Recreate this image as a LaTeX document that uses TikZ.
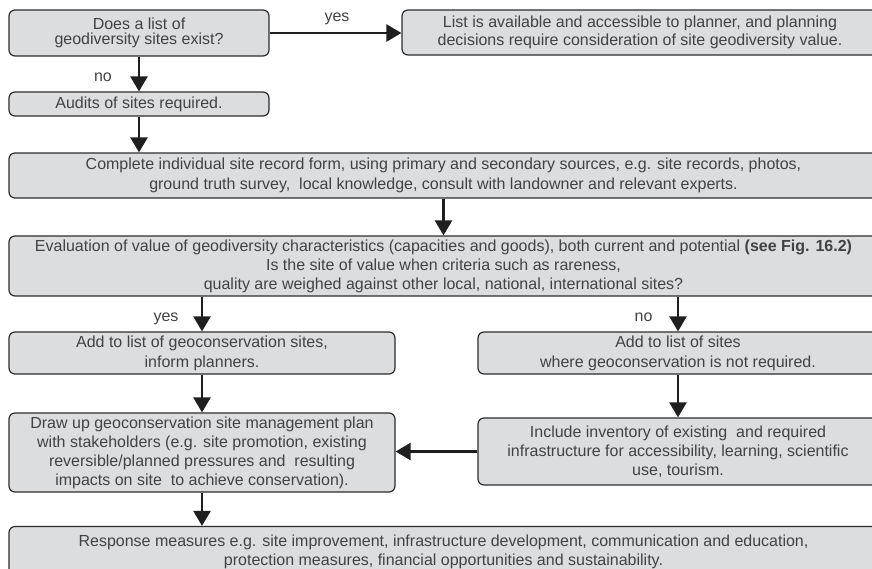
\documentclass[tikz,border=0pt]{standalone}
\usepackage{fontspec}
\setmainfont{Liberation Sans}
\usetikzlibrary{arrows.meta}
\definecolor{boxgray}{RGB}{220,221,223}
\definecolor{txtgray}{RGB}{66,66,66}
\definecolor{linegray}{RGB}{45,45,45}
\begin{document}
\begin{tikzpicture}[x=1pt,y=-1pt,font=\fontsize{16}{19}\selectfont,
box/.style={draw=linegray,line width=1.2pt,fill=boxgray,rounded corners=6pt,text=txtgray,align=center,inner sep=0pt},
arr/.style={draw=black!88,line width=2.5pt,-{Triangle[length=15pt,width=17pt]}},
lbl/.style={text=txtgray,inner sep=0pt,anchor=base}]
\useasboundingbox(0,0)rectangle(872,568);\clip(0,0)rectangle(872,568);
\node[box,minimum width=260pt,minimum height=46pt,font=\fontsize{16}{15}\selectfont](q)at(139,33){Does a list of\\geodiversity sites exist?};
\node[box,minimum width=476pt,minimum height=45pt,font=\fontsize{16}{18}\selectfont](avail)at(640,32.5){List is available and accessible to planner, and planning\\decisions require consideration of site geodiversity value.};
\node[box,minimum width=260pt,minimum height=24pt](audit)at(139,104){Audits of sites required.};
\node[box,minimum width=869pt,minimum height=45pt,font=\fontsize{16}{20}\selectfont](rec)at(443.5,175.5){Complete individual site record form, using primary and secondary sources, e.g. site records, photos,\\ground truth survey,~ local knowledge, consult with landowner and relevant experts.};
\node[box,minimum width=869pt,minimum height=60pt](eval)at(443.5,266){Evaluation of value of geodiversity characteristics (capacities and goods), both current and potential \textbf{(see Fig. 16.2)}\\Is the site of value when criteria such as rareness,\\quality are weighed against other local, national, international sites?};
\node[box,minimum width=386pt,minimum height=42pt,font=\fontsize{16}{20}\selectfont](addl)at(202,353){Add to list of geoconservation sites,\\inform planners.};
\node[box,minimum width=400pt,minimum height=42pt,font=\fontsize{16}{20}\selectfont](addr)at(678,353){Add to list of sites\\where geoconservation is not required.};
\node[box,minimum width=386pt,minimum height=79pt](plan)at(202,452.5){Draw up geoconservation site management plan\\with stakeholders (e.g. site promotion, existing\\reversible/planned pressures and~ resulting\\impacts on site~ to achieve conservation).};
\node[box,minimum width=400pt,minimum height=67pt](incl)at(678,451.5){Include inventory of existing~ and required\\infrastructure for accessibility, learning, scientific\\use, tourism.};
\node[box,minimum width=869pt,minimum height=50pt](resp)at(443.5,551.5){Response measures e.g. site improvement, infrastructure development, communication and education,\\protection measures, financial opportunities and sustainability.};
\node[lbl](yes1)at(337,21.6){yes};\node[lbl](no1)at(103,81.7){no};
\node[lbl](yes2)at(166,321){yes};\node[lbl](no2)at(643.5,321.5){no};
\draw[arr](q.east)--(q.east-|avail.west);
\draw[arr](q.south)--(audit.north);
\draw[arr](audit.south)--(audit.south|-rec.north);
\draw[arr](rec.south)--(eval.north);
\draw[arr](addl.north|-eval.south)--(addl.north);\draw[arr](addr.north|-eval.south)--(addr.north);
\draw[arr](addl.south)--(plan.north);\draw[arr](addr.south)--(incl.north);
\draw[arr](incl.west)--(incl.west-|plan.east);
\draw[arr](plan.south)--(plan.south|-resp.north);
\end{tikzpicture}
\end{document}
